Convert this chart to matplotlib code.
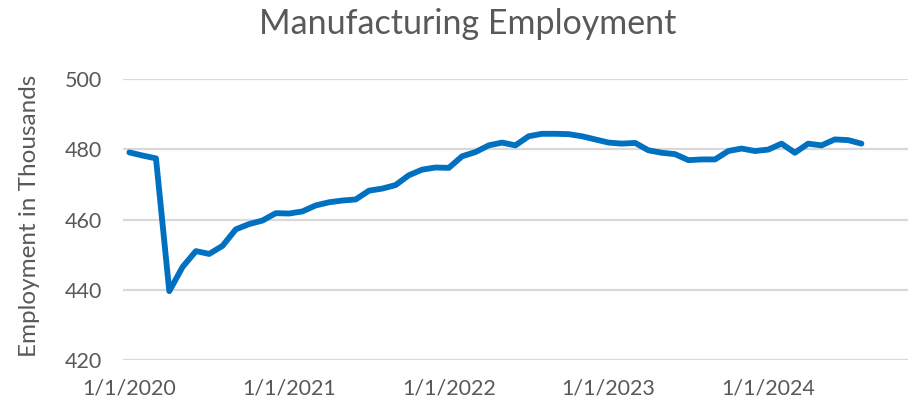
import matplotlib
matplotlib.use("Agg")
import matplotlib.pyplot as plt

# Monthly manufacturing employment (thousands), Jan 2020 - Aug 2024
months = list(range(56))
employment = [
    479.1, 478.2, 477.4, 439.6, 446.5, 451.0, 450.2, 452.5, 457.2, 458.7, 459.7, 461.8,   # 2020
    461.7, 462.3, 464.0, 464.9, 465.4, 465.7, 468.2, 468.8, 469.8, 472.6, 474.2, 474.8,   # 2021
    474.7, 478.0, 479.2, 481.1, 481.9, 481.1, 483.7, 484.4, 484.4, 484.3, 483.7, 482.8,   # 2022
    481.9, 481.6, 481.8, 479.7, 479.0, 478.6, 476.9, 477.1, 477.1, 479.5, 480.2, 479.5,   # 2023
    479.9, 481.6, 479.0, 481.6, 481.1, 482.8, 482.6, 481.6,                               # 2024
]
tick_positions = [0, 12, 24, 36, 48]
tick_labels = ["1/1/2020", "1/1/2021", "1/1/2022", "1/1/2023", "1/1/2024"]
y_ticks = [420, 440, 460, 480, 500]

title = "Manufacturing Employment"
ylabel = "Employment in Thousands"

TEXT = "#595959"
LINE = "#0070C0"
GRID = "#D9D9D9"
FONT = "Lato"

W, H = 915, 403
fig = plt.figure(figsize=(W / 100, H / 100), dpi=100)
left, right, top, bottom = 122.7, 908, 79, 360
ax = fig.add_axes([left / W, 1 - bottom / H, (right - left) / W, (bottom - top) / H])

ax.plot(months, employment, color=LINE, linewidth=4.2, solid_joinstyle="round",
        solid_capstyle="round", zorder=3)

ax.set_xlim(-0.5, 58.5)
ax.set_ylim(420, 500)
ax.set_yticks(y_ticks)
ax.set_yticklabels([str(v) for v in y_ticks])
ax.set_xticks(tick_positions)
ax.set_xticklabels(tick_labels)

for s in ax.spines.values():
    s.set_visible(False)
ax.grid(axis="y", color=GRID, linewidth=1.6, zorder=0)
ax.set_axisbelow(True)
ax.tick_params(axis="both", length=0, colors=TEXT, labelsize=15.5)
ax.tick_params(axis="y", pad=15)
ax.tick_params(axis="x", pad=13)
for lab in ax.get_xticklabels() + ax.get_yticklabels():
    lab.set_fontfamily(FONT)

fig.text(468 / W, 1 - 34 / H, title, ha="center", va="baseline",
         fontsize=24.5, color=TEXT, family=FONT)
fig.text(30 / W, 1 - 216 / H, ylabel, ha="center", va="center", rotation=90,
         fontsize=17.5, color=TEXT, family=FONT)

fig.savefig("out.png", dpi=100)
